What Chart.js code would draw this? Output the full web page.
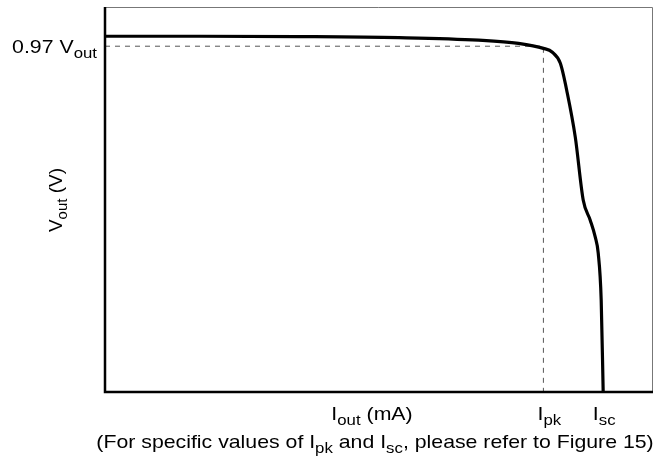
<!DOCTYPE html>
<html>
<head>
<meta charset="utf-8">
<script src="https://cdn.jsdelivr.net/npm/chart.js@4"></script>
<style>
  html, body { margin: 0; padding: 0; background: #fff; }
  #wrap { width: 657px; height: 464px; }
</style>
</head>
<body>
<div id="wrap"><canvas id="vChart"></canvas></div>
<script>
// output current (arbitrary units, Isc = 100) and output voltage (fraction of Vout)
var iOut = [0, 19, 39, 59, 75, 83, 88, 89.8, 91.4, 92.8, 94.4, 96, 97.4, 98.4, 99, 99.6, 100];
var vOut = [0.998, 0.998, 0.997, 0.994, 0.987, 0.978, 0.964, 0.953, 0.922, 0.838, 0.715, 0.538, 0.482, 0.435, 0.39, 0.258, 0];
var iPk = 88;
var iSc = 100;
var vRef = 0.97;
var xMax = 110;
var yMax = 1.08;

var FONT = '"Liberation Sans", Arial, Helvetica, sans-serif';
var SIZE = 19;

// draw text pieces, some of them as subscripts (sx = horizontal stretch)
function drawParts(ctx, parts, x, y, align, sx) {
  var subSize = Math.round(SIZE * 0.8);
  var w = 0;
  parts.forEach(function (p) {
    ctx.font = (p[1] ? subSize : SIZE) + 'px ' + FONT;
    w += ctx.measureText(p[0]).width;
  });
  ctx.save();
  ctx.translate(x, y);
  ctx.scale(sx, 1);
  var cx = align === 'center' ? -w / 2 : (align === 'right' ? -w : 0);
  ctx.textAlign = 'left';
  ctx.textBaseline = 'alphabetic';
  parts.forEach(function (p) {
    ctx.font = (p[1] ? subSize : SIZE) + 'px ' + FONT;
    ctx.fillText(p[0], cx, p[1] ? 5 : 0);
    cx += ctx.measureText(p[0]).width;
  });
  ctx.restore();
}

var labelsPlugin = {
  id: 'labels',
  afterDraw: function (chart) {
    var ctx = chart.ctx;
    var a = chart.chartArea;
    var xs = chart.scales.x, ys = chart.scales.y;
    ctx.save();
    // frame
    ctx.strokeStyle = '#777';
    ctx.lineWidth = 1;
    ctx.beginPath();
    ctx.moveTo(a.left, a.top + 0.5);
    ctx.lineTo(a.right - 0.5, a.top + 0.5);
    ctx.lineTo(a.right - 0.5, a.bottom);
    ctx.stroke();
    ctx.strokeStyle = '#000';
    ctx.lineWidth = 2.5;
    ctx.beginPath();
    ctx.moveTo(a.left, a.top);
    ctx.lineTo(a.left, a.bottom);
    ctx.lineTo(a.right, a.bottom);
    ctx.stroke();

    ctx.fillStyle = '#000';
    var sx = 1.12;
    // y tick
    drawParts(ctx, [['0.97 V', false], ['out', true]], a.left - 8, ys.getPixelForValue(vRef) + 7, 'right', sx);
    // x ticks
    drawParts(ctx, [['I', false], ['pk', true]], xs.getPixelForValue(iPk) + 6, 420, 'center', sx);
    drawParts(ctx, [['I', false], ['sc', true]], xs.getPixelForValue(iSc) + 1, 420, 'center', sx);
    drawParts(ctx, [['I', false], ['out', true], [' (mA)', false]], 372, 420, 'center', sx);
    drawParts(ctx, [['(For specific values of I', false], ['pk', true], [' and I', false], ['sc', true], [', please refer to Figure 15)', false]], 375, 448, 'center', sx);
    // y title
    ctx.translate(62, 200);
    ctx.rotate(-Math.PI / 2);
    drawParts(ctx, [['V', false], ['out', true], [' (V)', false]], 0, 0, 'center', 1);
    ctx.restore();
  }
};

var curve = iOut.map(function (x, i) { return { x: x, y: vOut[i] }; });
var guide = [{ x: 0, y: vRef }, { x: iPk, y: vRef }, { x: iPk, y: 0 }];

new Chart(document.getElementById('vChart'), {
  type: 'line',
  data: {
    datasets: [
      {
        data: curve,
        borderColor: '#000',
        borderWidth: 3.2,
        pointRadius: 0,
        cubicInterpolationMode: 'monotone',
        fill: false
      },
      {
        data: guide,
        borderColor: '#555',
        borderWidth: 1,
        borderDash: [5, 5],
        pointRadius: 0,
        tension: 0,
        fill: false
      }
    ]
  },
  options: {
    responsive: true,
    maintainAspectRatio: false,
    animation: false,
    layout: { padding: { left: 105, right: 4, top: 7, bottom: 72 } },
    plugins: { legend: { display: false }, tooltip: { enabled: false } },
    scales: {
      x: { type: 'linear', min: 0, max: xMax, display: false },
      y: { type: 'linear', min: 0, max: yMax, display: false }
    }
  },
  plugins: [labelsPlugin]
});
</script>
</body>
</html>
